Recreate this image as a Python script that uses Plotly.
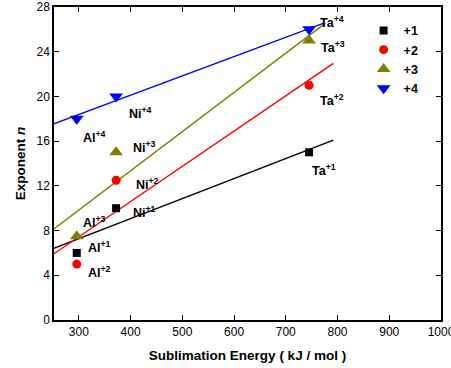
import numpy as np
import plotly.graph_objects as go

energy = [296, 372, 745]
n_p1 = [6, 10, 15]
n_p2 = [5, 12.5, 21]
n_p3 = [7.5, 15, 25]
n_p4 = [18, 20, 26]
series_names = ["+1", "+2", "+3", "+4"]
colors = ["black", "red", "olive", "blue"]
symbols = ["square", "circle", "triangle-up", "triangle-down"]
marker_sizes = [8, 9, 12, 12]
fit_end = [792, 792, 776, 776]

labels = ["Al<sup>+1</sup>", "Ni<sup>+1</sup>", "Ta<sup>+1</sup>",
          "Al<sup>+2</sup>", "Ni<sup>+2</sup>", "Ta<sup>+2</sup>",
          "Al<sup>+3</sup>", "Ni<sup>+3</sup>", "Ta<sup>+3</sup>",
          "Al<sup>+4</sup>", "Ni<sup>+4</sup>", "Ta<sup>+4</sup>"]
label_x = [313, 400, 747, 313, 406, 763, 305, 400, 765, 305, 394, 763]
label_y = [6.5, 9.7, 13.4, 4.3, 12.2, 19.7, 8.8, 15.5, 24.4, 16.4, 18.5, 26.7]

fig = go.Figure()
all_n = [n_p1, n_p2, n_p3, n_p4]
for i, ys in enumerate(all_n):
    k, b = np.polyfit(energy, ys, 1)
    xs = np.array([250, fit_end[i]])
    fig.add_trace(go.Scatter(x=xs, y=k * xs + b, mode="lines",
                             line=dict(color=colors[i], width=1.4),
                             showlegend=False, hoverinfo="skip"))
for i, ys in enumerate(all_n):
    fig.add_trace(go.Scatter(x=energy, y=ys, mode="markers", name=series_names[i],
                             marker=dict(color=colors[i], symbol=symbols[i], size=marker_sizes[i],
                                         line=dict(width=0))))

for t, x, y in zip(labels, label_x, label_y):
    fig.add_annotation(x=x, y=y, text="<b>" + t + "</b>", showarrow=False,
                       xanchor="left", yanchor="middle",
                       font=dict(family="Liberation Sans, Arial", size=12.5, color="black"))

axis_common = dict(showline=True, linecolor="black", linewidth=1.5, mirror="ticks",
                   ticks="inside", ticklen=5, tickcolor="black", showgrid=False,
                   zeroline=False, automargin=False, ticklabeloverflow="allow",
                   tickfont=dict(family="Liberation Sans, Arial", size=12, color="black"))
fig.update_xaxes(range=[252, 1000], tickvals=[300, 400, 500, 600, 700, 800, 900, 1000],
                 title=dict(text="<b>Sublimation Energy ( kJ / mol )</b>", standoff=12,
                            font=dict(family="Liberation Sans, Arial", size=13.5, color="black")),
                 **axis_common)
fig.update_yaxes(range=[0, 28], tickvals=[0, 4, 8, 12, 16, 20, 24, 28],
                 title=dict(text="<b>Exponent <i>n</i></b>", standoff=8,
                            font=dict(family="Liberation Sans, Arial", size=13.5, color="black")),
                 **axis_common)
fig.update_layout(width=451, height=368, margin=dict(l=54, r=10, t=7, b=48),
                  paper_bgcolor="white", plot_bgcolor="white",
                  legend=dict(x=0.80, y=0.972, xanchor="left", yanchor="top",
                              bgcolor="rgba(0,0,0,0)", tracegroupgap=0,
                              font=dict(family="Liberation Sans, Arial", size=12.5, color="black", weight="bold")),
                  showlegend=True)
fig.write_html("out.html", config={"displayModeBar": False},
               post_script="document.body.style.margin='0px';")
